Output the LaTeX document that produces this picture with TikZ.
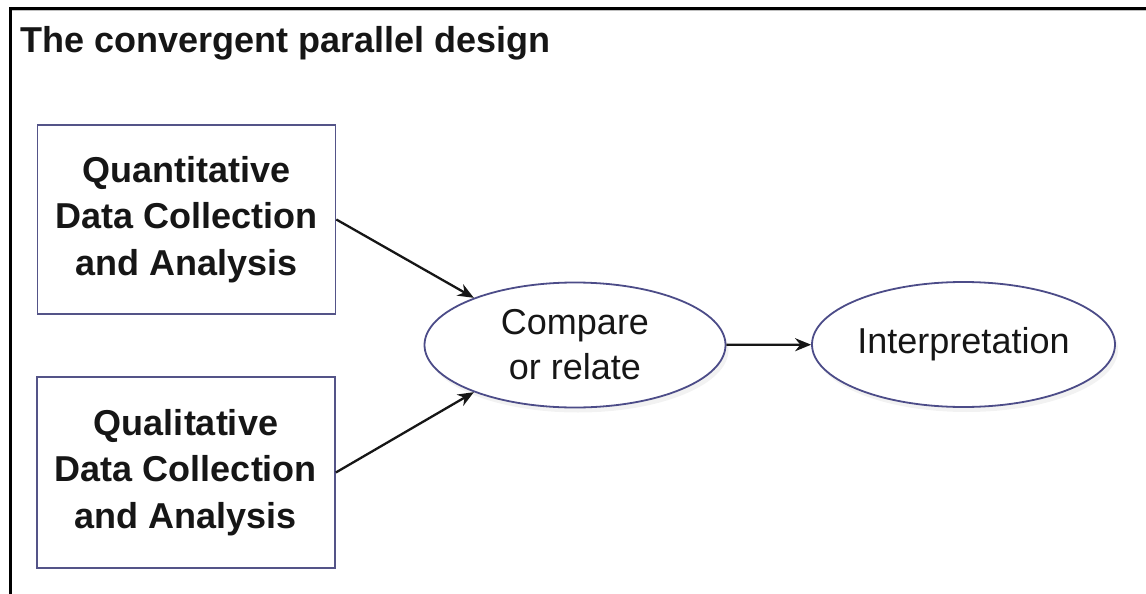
\documentclass[tikz,border=0pt]{standalone}
\usepackage{fontspec}
\setmainfont{Liberation Sans}
\usetikzlibrary{arrows.meta,shapes.geometric,shadows}
\definecolor{inkc}{RGB}{22,22,22}
\definecolor{boxline}{RGB}{84,84,136}
\definecolor{ovalline}{RGB}{76,76,136}
\tikzset{
  framerule/.style={line width=3pt,black},
  datbox/.style={draw=boxline,line width=1.7pt,rectangle,inner sep=0pt,
    align=center,text=inkc,font=\fontsize{36}{46.5}\selectfont\bfseries},
  oval/.style={draw=ovalline,line width=1.8pt,ellipse,inner sep=0pt,fill=white,
    minimum width=301pt,minimum height=125pt,align=center,text=inkc,
    font=\fontsize{36}{45}\selectfont,
    drop shadow={opacity=0.10,shadow xshift=3pt,shadow yshift=-5pt}},
  flow/.style={draw=inkc,line width=2.3pt,-{Stealth[length=16pt,width=13pt]}}
}
\begin{document}
\begin{tikzpicture}[x=1pt,y=-1pt]
\useasboundingbox (0,0) rectangle (1146,594);
% page frame, open at the right and bottom
\coordinate (ftr) at (1146,8.5);
\coordinate (ftl) at (10.5,8.5);
\coordinate (fbl) at (10.5,594);
\draw[black!25,line width=1pt] (1146,10.8) -- (12,10.8);
\draw[framerule] (ftr) -- (ftl) -- (fbl);
% heading
\node[anchor=base west,inner sep=0pt,text=inkc,font=\fontsize{36}{40}\selectfont\bfseries]
  (title) at (20,53) {The convergent parallel design};
% the two data strands
\node[datbox,minimum width=298pt,minimum height=189pt] (quan) at (186.5,219.5)
  {Quantitative\\Data Collection\\and Analysis};
\node[datbox,minimum width=298pt,minimum height=191pt] (qual) at (186,472.5)
  {Qualitative\\Data Collection\\and Analysis};
% merging and interpretation
\node[oval] (cmp) at (575,345) {Compare\\or relate};
\node[oval,minimum width=303pt] (interp) at (963.5,344.5) {Interpretation};
% connectors
\draw[flow] (quan.east) -- (cmp.155);
\draw[flow] (qual.east) -- (cmp.205);
\draw[flow] (cmp) -- (interp);
\end{tikzpicture}
\end{document}
